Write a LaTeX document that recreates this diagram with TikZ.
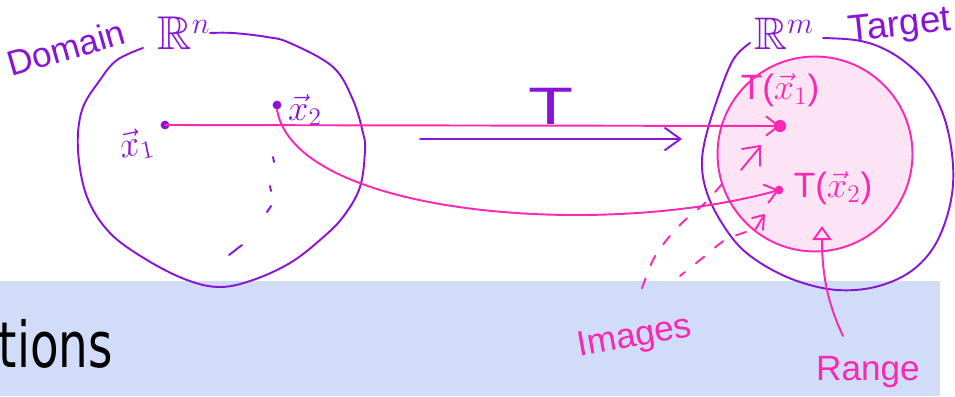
\documentclass[tikz,border=0pt]{standalone}
\usepackage{amssymb}
\usepackage{fontspec}
\setmainfont{Liberation Sans}
\newfontfamily\slidefont{DejaVu Sans}
\usetikzlibrary{arrows.meta}

\definecolor{penpurple}{RGB}{136,20,214}
\definecolor{penpink}{RGB}{250,40,178}
\definecolor{rangefill}{RGB}{253,228,245}
\definecolor{slideblue}{RGB}{209,220,248}

\begin{document}
\begin{tikzpicture}[x=0.02cm,y=-0.02cm,line cap=round,line join=round,
  purpleline/.style={draw=penpurple,line width=1.1pt},
  pinkline/.style={draw=penpink,line width=1.1pt},
  hand/.style={font=\fontsize{20}{22}\selectfont,inner sep=0pt},
  barb/.style={-{Straight Barb[length=7pt,width=11pt]}},
  dot/.style={circle,inner sep=0pt,minimum size=#1},
  dot/.default=5pt]
\useasboundingbox (0,0) rectangle (955,396);
% slide band underneath
\fill[slideblue] (0,281) rectangle (940,396);
\node[font=\slidefont\fontsize{36}{40}\selectfont,xscale=0.74,anchor=base east,inner sep=0pt] (tions) at (113,367) {tions};
% domain and target blobs
\draw[purpleline] plot[smooth,tension=0.6] coordinates {(143,48) (117,60) (100,80) (82,110) (78,150) (87,197) (110,233) (147,260) (187,280) (220,287) (253,280) (290,263) (320,240) (343,217) (360,187) (365,150) (363,133) (353,100) (333,67) (290,43) (267,37) (233,33) (210,33)};
\draw[purpleline] plot[smooth,tension=0.6] coordinates {(750,43) (733,60) (717,100) (705,140) (702,167) (707,193) (720,220) (740,247) (767,267) (800,282) (837,290) (875,287) (910,272) (935,245) (950,205) (953,165) (945,120) (928,85) (905,62) (880,47) (855,40) (823,38)};
\node[circle,draw=penpink,fill=rangefill,line width=1.1pt,minimum size=3.9cm,inner sep=0pt] (rangeset) at (815,154) {};
% labels
\node[hand,text=penpurple,rotate=16] (domain) at (66,48) {Domain};
\node[text=penpurple,font=\fontsize{27}{29}\selectfont,inner sep=0pt] (rn) at (184,33) {$\mathbb{R}^n$};
\node[text=penpurple,font=\fontsize{26}{28}\selectfont,inner sep=0pt] (rm) at (784,34) {$\mathbb{R}^m$};
\node[hand,text=penpurple,rotate=6,font=\fontsize{21}{23}\selectfont] (target) at (900,27) {Target};
\node[text=penpurple,font=\fontsize{20}{22}\selectfont,inner sep=0pt,rotate=12] (xone) at (136,145) {$\vec{x}_1$};
\node[text=penpurple,font=\fontsize{20}{22}\selectfont,inner sep=0pt] (xtwo) at (305,110) {$\vec{x}_2$};
\node[text=penpurple,font=\fontsize{30}{32}\selectfont,xscale=1.4,inner sep=0pt] (tlabel) at (551,106) {T};
\node[text=penpink,font=\fontsize{20}{22}\selectfont,inner sep=0pt] (txone) at (780,90) {T($\vec{x}_1$)};
\node[text=penpink,font=\fontsize{20}{22}\selectfont,inner sep=0pt] (txtwo) at (833,188) {T($\vec{x}_2$)};
\node[hand,text=penpink,rotate=10] (images) at (635,338) {Images};
\node[hand,text=penpink] (range) at (868,372) {Range};
% points
\node[dot,fill=penpurple] (p1) at (165,125) {};
\node[dot,fill=penpurple] (p2) at (277,105) {};
\node[dot=7pt,fill=penpink] (q1) at (780,126) {};
\node[dot,fill=penpink] (q2) at (779,190) {};
% mappings
\coordinate (tstart) at (420,139);
\coordinate (tend) at (682,139);
\draw[purpleline,-{Straight Barb[length=9pt,width=13pt]}] (tstart) -- (tend);
\draw[pinkline,barb] (p1.center) -- (q1.center);
\draw[pinkline,barb] (p2.south) .. controls (295,215) and (600,240) .. (q2.center);
% more points in the domain
\draw[purpleline] (273,157) -- (274,162);
\draw[purpleline] (270,186) -- (271,191);
\draw[purpleline] (267,212) -- (271,206);
\draw[purpleline] (229,255) -- (242,245);
% more images
\draw[pinkline] (742,149) -- (760,146) -- (760,166);
\draw[pinkline] (760,147) -- (741,170);
\draw[pinkline] (752,218) -- (764,215) -- (763,230);
\draw[pinkline] (763,217) -- (755,230);
\draw[pinkline,dash pattern=on 6pt off 8pt] plot[smooth] coordinates {(722,184) (705,203) (683,222) (665,242) (652,262) (640,294)};
\draw[pinkline,dash pattern=on 6pt off 8pt] plot[smooth] coordinates {(746,232) (725,240) (705,256) (680,276)};
% range pointer
\coordinate (rangefoot) at (843,336);
\draw[pinkline,-{Triangle[open,length=8pt,width=11pt]}] (rangefoot) .. controls (826,300) and (822,270) .. (822,226);
\end{tikzpicture}
\end{document}
